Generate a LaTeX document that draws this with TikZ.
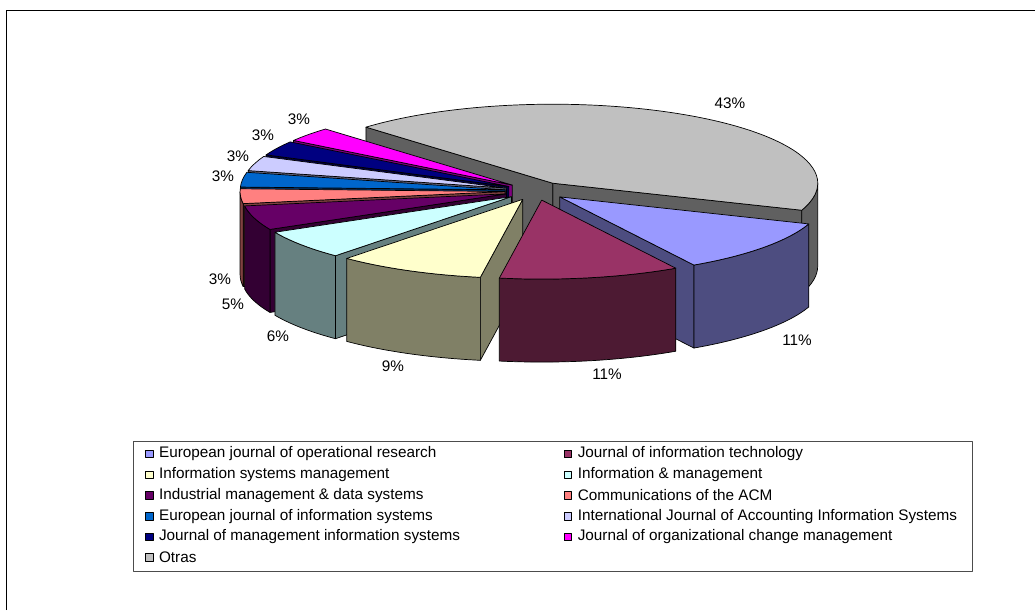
\documentclass[tikz,border=0pt]{standalone}
\usepackage{fontspec}
\setmainfont{Liberation Sans}
\usetikzlibrary{positioning}

\definecolor{ejor}{HTML}{9999FF}  \definecolor{ejorS}{HTML}{4D4D80}
\definecolor{jit}{HTML}{993366}   \definecolor{jitS}{HTML}{4D1A33}
\definecolor{ism}{HTML}{FFFFCC}   \definecolor{ismS}{HTML}{808066}
\definecolor{iam}{HTML}{CCFFFF}   \definecolor{iamS}{HTML}{668080}
\definecolor{imds}{HTML}{660066}  \definecolor{imdsS}{HTML}{330033}
\definecolor{cacm}{HTML}{FF8080}  \definecolor{cacmS}{HTML}{804040}
\definecolor{ejis}{HTML}{0066CC}  \definecolor{ejisS}{HTML}{003366}
\definecolor{ijais}{HTML}{CCCCFF} \definecolor{ijaisS}{HTML}{666680}
\definecolor{jmis}{HTML}{000080}  \definecolor{jmisS}{HTML}{000040}
\definecolor{jocm}{HTML}{FF00FF}  \definecolor{jocmS}{HTML}{800080}
\definecolor{otras}{HTML}{C0C0C0} \definecolor{otrasS}{HTML}{606060}

\newcommand{\pieCx}{536}
\newcommand{\pieCy}{419}
\newcommand{\pieRx}{265}
\newcommand{\pieRy}{79}
\newcommand{\pieDepth}{83}
\newcommand{\pieExplode}{31}

% one exploded 3d slice: #1 start, #2 end angle (counter-clockwise), #3 top, #4 side
\newcommand{\pieslice}[4]{%
  \pgfmathsetmacro{\sliceMid}{(#1+#2)/2}%
  \pgfmathsetmacro{\wallA}{max(#1,-180)}%
  \pgfmathsetmacro{\wallB}{min(#2,0)}%
  \pgfmathtruncatemacro{\hasWall}{\wallB>\wallA}%
  \pgfmathtruncatemacro{\faceA}{cos(#1)>0}%
  \pgfmathtruncatemacro{\faceB}{cos(#2)<0}%
  \begin{scope}[shift={({\pieCx+\pieExplode*cos(\sliceMid)},{\pieCy+\pieExplode*\pieRy/\pieRx*sin(\sliceMid)})}]
    \ifnum\faceA=1
      \filldraw[slice, fill=#4] (0,0) -- ({\pieRx*cos(#1)},{\pieRy*sin(#1)}) -- ++(0,-\pieDepth) -- (0,-\pieDepth) -- cycle;
    \fi
    \ifnum\faceB=1
      \filldraw[slice, fill=#4] (0,0) -- ({\pieRx*cos(#2)},{\pieRy*sin(#2)}) -- ++(0,-\pieDepth) -- (0,-\pieDepth) -- cycle;
    \fi
    \ifnum\hasWall=1
      \filldraw[slice, fill=#4] ({\pieRx*cos(\wallA)},{\pieRy*sin(\wallA)})
        arc[start angle=\wallA, end angle=\wallB, x radius=\pieRx, y radius=\pieRy]
        -- ++(0,-\pieDepth)
        arc[start angle=\wallB, end angle=\wallA, x radius=\pieRx, y radius=\pieRy] -- cycle;
    \fi
    \filldraw[slice, fill=#3] (0,0) -- ({\pieRx*cos(#1)},{\pieRy*sin(#1)})
      arc[start angle=#1, end angle=#2, x radius=\pieRx, y radius=\pieRy] -- cycle;
  \end{scope}}

\begin{document}
\begin{tikzpicture}[x=1pt, y=1pt, line join=round,
    slice/.style={draw=black, line width=0.7pt},
    pct/.style={font=\fontsize{15.3}{18}\selectfont, inner sep=0pt},
    legtext/.style={font=\fontsize{15.3}{18}\selectfont, inner sep=0pt, anchor=west},
    legmark/.style={draw=black, line width=0.6pt, minimum size=7.5pt, inner sep=0pt}]

    \useasboundingbox (0,0) rectangle (1035,610);
    \draw[line width=1.6pt] (6.5,0) -- (6.5,599.5) -- (1035,599.5);

    % back to front
    \pieslice{-20}{134.8}{otras}{otrasS}
    \pieslice{-225.2}{-214.4}{jocm}{jocmS}
    \pieslice{-214.4}{-203.6}{jmis}{jmisS}
    \pieslice{-203.6}{-192.8}{ijais}{ijaisS}
    \pieslice{-192.8}{-182}{ejis}{ejisS}
    \pieslice{-182}{-171.2}{cacm}{cacmS}
    \pieslice{-171.2}{-153.2}{imds}{imdsS}
    \pieslice{-153.2}{-131.6}{iam}{iamS}
    \pieslice{-131.6}{-99.2}{ism}{ismS}
    \pieslice{-59.6}{-20}{ejor}{ejorS}
    \pieslice{-99.2}{-59.6}{jit}{jitS}

    \node[pct] (p43) at (730,507) {43\%};
    \node[pct] (p11a) at (797,270) {11\%};
    \node[pct] (p11b) at (607,236) {11\%};
    \node[pct] (p9) at (393,244) {9\%};
    \node[pct] (p6) at (278,274) {6\%};
    \node[pct] (p5) at (233,306) {5\%};
    \node[pct] (p3a) at (220,331) {3\%};
    \node[pct] (p3b) at (223,434) {3\%};
    \node[pct] (p3c) at (238,454) {3\%};
    \node[pct] (p3d) at (263,475) {3\%};
    \node[pct] (p3e) at (299,491) {3\%};

    % legend
    \draw[draw=black!70, line width=1pt] (133,39) rectangle (972,168);
    \foreach \clr/\txt [count=\i] in {ejor/European journal of operational research,
        ism/Information systems management, imds/Industrial management \& data systems,
        ejis/European journal of information systems, jmis/Journal of management information systems,
        otras/Otras}{
        \node[legmark, fill=\clr] (lmA\i) at (149.3,{156-(\i-1)*20.7}) {};
        \node[legtext, right=5.5pt of lmA\i] (ltA\i) {\txt};
    }
    \foreach \clr/\txt [count=\i] in {jit/Journal of information technology,
        iam/Information \& management, cacm/Communications of the ACM,
        ijais/International Journal of Accounting Information Systems,
        jocm/Journal of organizational change management}{
        \node[legmark, fill=\clr] (lmB\i) at (568,{156-(\i-1)*20.7}) {};
        \node[legtext, right=5.5pt of lmB\i] (ltB\i) {\txt};
    }
\end{tikzpicture}
\end{document}
